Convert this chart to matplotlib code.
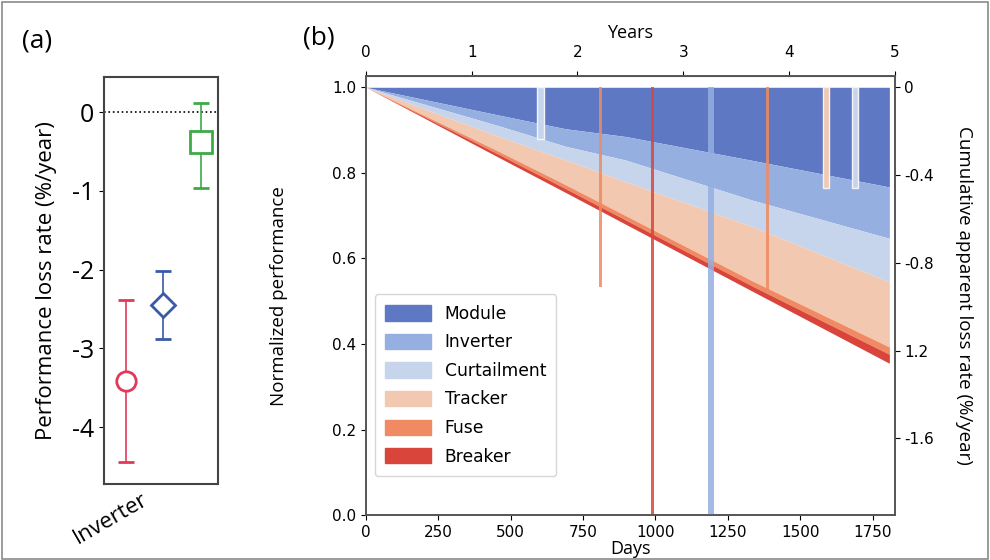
import numpy as np
import matplotlib
matplotlib.use("Agg")
import matplotlib.pyplot as plt
from matplotlib.patches import Patch, Rectangle

# ---- panel (a): performance loss rate per method ----
pa_center = [-3.41, -2.45, -0.385]
pa_low    = [-4.44, -2.88, -0.96]
pa_high   = [-2.38, -2.02, 0.12]
pa_offset = [-0.33, 0.0, 0.33]
pa_marker = ['o', 'D', 's']
pa_color  = ['#e0395a', '#3a5aa8', '#3daa48']
pa_msize  = [14, 12, 16]

# ---- panel (b): stacked loss bands (lower edge of each band) ----
days         = [0, 459, 690, 897, 1336, 1808]
module_bot   = [1.0, 0.935, 0.903, 0.885, 0.829, 0.767]
inverter_bot = [1.0, 0.910, 0.862, 0.830, 0.736, 0.647]
curtail_bot  = [1.0, 0.885, 0.830, 0.779, 0.674, 0.545]
tracker_bot  = [1.0, 0.850, 0.772, 0.700, 0.547, 0.393]
fuse_bot     = [1.0, 0.843, 0.763, 0.690, 0.535, 0.376]
breaker_bot  = [1.0, 0.836, 0.754, 0.680, 0.523, 0.355]

categories = ['Module', 'Inverter', 'Curtailment', 'Tracker', 'Fuse', 'Breaker']
cat_colors = ['#5f78c4', '#94afe0', '#c6d5ec', '#f2c8b0', '#ef8a62', '#d9453a']

# outage spikes: day, lowest value, category, width (days), outlined
spike_day   = [603, 811, 990, 1191, 1388, 1590, 1690]
spike_low   = [0.88, 0.533, 0.0, 0.0, 0.526, 0.764, 0.764]
spike_cat   = ['Curtailment', 'Fuse', 'Breaker', 'Inverter', 'Fuse', 'Tracker', 'Curtailment']
spike_width = [22, 9, 13, 22, 9, 22, 22]
spike_edge  = [True, False, False, False, False, True, True]

right_ticks  = [0, -0.4, -0.8, -1.2, -1.6]
right_labels = ['0', '-0.4', '-0.8', '1.2', '-1.6']

label_font = 'Open Sans'
fig = plt.figure(figsize=(9.9, 5.6), dpi=100)
fig.patches.append(Rectangle((0.002, 0.002), 0.996, 0.994, transform=fig.transFigure,
                             fill=False, edgecolor='#8a8a8a', lw=1.2))

# ---------------- panel (a) ----------------
ax_a = fig.add_axes([0.105, 0.136, 0.115, 0.727])
for i in range(3):
    ax_a.errorbar(pa_offset[i], pa_center[i],
                  yerr=[[pa_center[i] - pa_low[i]], [pa_high[i] - pa_center[i]]],
                  fmt=pa_marker[i], color=pa_color[i], mfc='white', mec=pa_color[i],
                  mew=2, ms=pa_msize[i], capsize=6, elinewidth=1.2, capthick=1.2)
ax_a.axhline(0, color='k', ls=':', lw=1.2, zorder=0)
ax_a.set_xlim(-0.52, 0.48)
ax_a.set_ylim(-4.72, 0.45)
ax_a.set_yticks([0, -1, -2, -3, -4])
ax_a.set_yticklabels(['0', '-1', '-2', '-3', '-4'], family=label_font, fontsize=18)
ax_a.set_xticks([-0.1])
ax_a.set_xticklabels(['Inverter'], rotation=30, ha='right', family=label_font, fontsize=16)
ax_a.tick_params(axis='x', length=0)
ax_a.set_ylabel('Performance loss rate (%/year)', family=label_font, fontsize=16, labelpad=11)
for s in ax_a.spines.values():
    s.set_color('#444444')
    s.set_linewidth(1.5)
fig.text(0.022, 0.915, '(a)', family=label_font, fontsize=19)

# ---------------- panel (b) ----------------
ax = fig.add_axes([0.3697, 0.080, 0.534, 0.784])
tops = [np.ones(len(days)), module_bot, inverter_bot, curtail_bot, tracker_bot, fuse_bot]
bots = [module_bot, inverter_bot, curtail_bot, tracker_bot, fuse_bot, breaker_bot]
for top, bot, c in zip(tops, bots, cat_colors):
    ax.fill_between(days, bot, top, color=c, lw=0)

for d, lo, cat, w, edge in zip(spike_day, spike_low, spike_cat, spike_width, spike_edge):
    c = cat_colors[categories.index(cat)]
    if edge:
        ax.bar(d, 1.0 - lo, bottom=lo, width=w, color=c, edgecolor='#f4f4f8', lw=1.0, zorder=3)
    else:
        ax.bar(d, 1.0 - lo, bottom=lo, width=w, color=c, lw=0, zorder=3, alpha=0.85)

ax.set_xlim(0, 1826.3)
ax.set_ylim(0, 1.026)
ax.set_xticks(np.arange(0, 1751, 250))
ax.set_yticks([0, 0.2, 0.4, 0.6, 0.8, 1.0])
ax.tick_params(labelsize=11)
ax.set_xlabel('Days', family=label_font, fontsize=13, labelpad=0)
ax.set_ylabel('Normalized performance', family=label_font, fontsize=13.5, labelpad=32)

handles = [Patch(color=c, label=n) for c, n in zip(cat_colors, categories)]
leg = ax.legend(handles=handles, loc='lower left', bbox_to_anchor=(0.0, 0.07),
                fontsize=12.3, handlelength=2.7, handleheight=1.0, borderpad=0.6,
                labelspacing=0.62, framealpha=0.8)

top = ax.secondary_xaxis('top', functions=(lambda d: d / 365.25, lambda y: y * 365.25))
top.set_xticks([0, 1, 2, 3, 4, 5])
top.tick_params(labelsize=11, pad=8)
top.set_xlabel('Years', family=label_font, fontsize=13, labelpad=5)

k = 1.95
ax2 = ax.twinx()
ax2.set_ylim((0 - 1) * k, (1.026 - 1) * k)
ax2.set_yticks(right_ticks)
ax2.set_yticklabels(right_labels)
ax2.tick_params(labelsize=11)
ax2.set_ylabel('Cumulative apparent loss rate (%/year)', family=label_font, fontsize=13.5,
               rotation=270, labelpad=28)

for a in (ax, ax2):
    for s in a.spines.values():
        s.set_color('#555555')
        s.set_linewidth(1.2)
top.spines['top'].set_color('#555555')

fig.text(0.306, 0.92, '(b)', family=label_font, fontsize=19)

fig.savefig('out.png', dpi=100)
